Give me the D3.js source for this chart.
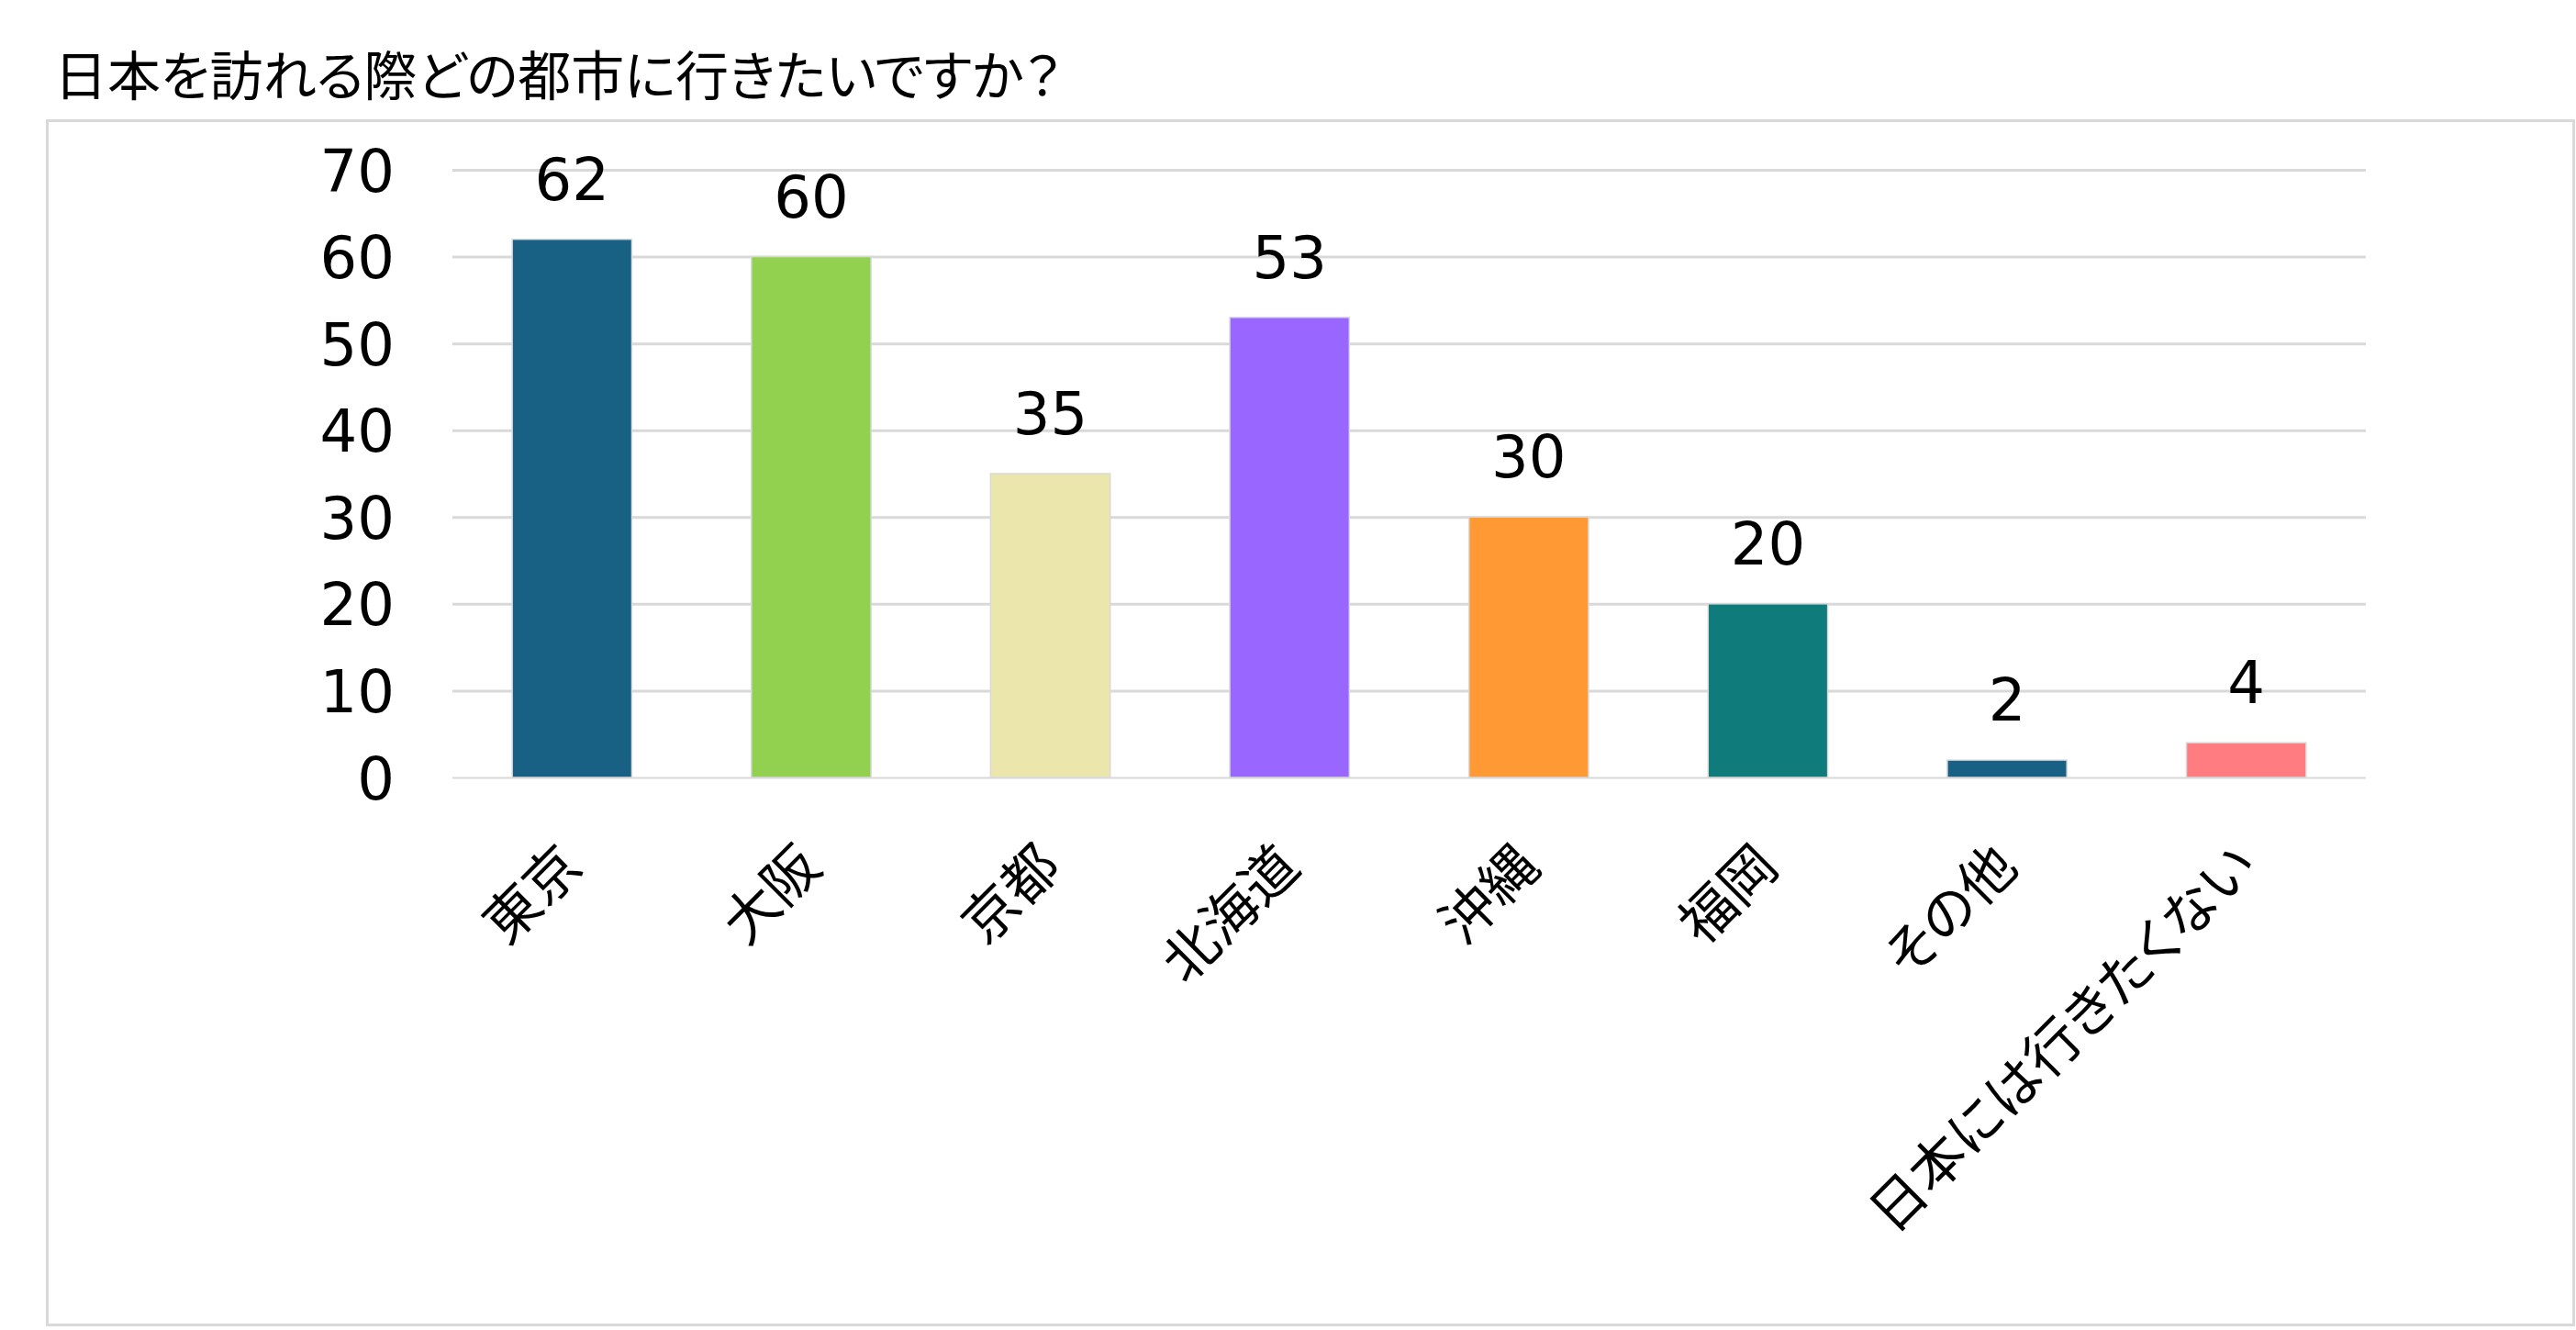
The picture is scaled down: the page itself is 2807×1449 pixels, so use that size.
<!DOCTYPE html>
<html><head><meta charset="utf-8">
<script src="https://cdn.jsdelivr.net/npm/d3@7"></script>
<style>
html,body{margin:0;padding:0;background:#fff;}
svg{display:block;}
.jp{font-family:"Noto Sans CJK JP","Noto Sans CJK SC",sans-serif;font-feature-settings:"palt";}
.num{font-family:"DejaVu Sans","Noto Sans CJK JP",sans-serif;}
</style></head>
<body>
<script>
const title = "日本を訪れる際どの都市に行きたいですか？";
const categories = ["東京","大阪","京都","北海道","沖縄","福岡","その他","日本には行きたくない"];
const values = [62, 60, 35, 53, 30, 20, 2, 4];
const colors = ["#186084","#92d050","#ebe6ac","#9966ff","#ff9933","#0f7b7b","#186084","#ff7c80"];
const yTicks = [0,10,20,30,40,50,60,70];

const W = 2807, H = 1449;
const svg = d3.select("body").append("svg").attr("width", W).attr("height", H);

// chart frame
svg.append("rect").attr("x", 51.5).attr("y", 131.5).attr("width", 2753).attr("height", 1312)
  .attr("fill", "#fff").attr("stroke", "#d9d9d9").attr("stroke-width", 3);

svg.append("text").attr("class", "jp").attr("x", 59).attr("y", 104)
  .attr("font-size", 58).attr("fill", "#000").text(title);

const x = d3.scaleBand().domain(categories).range([493, 2578]).paddingInner(0.5).paddingOuter(0.25);
const y = d3.scaleLinear().domain([0, 70]).range([847, 185]);

// gridlines
const yAxis = d3.axisLeft(y).tickValues(yTicks).tickSize(-(2578 - 493)).tickFormat(d => d);
const gy = svg.append("g").attr("transform", "translate(493,0)").call(yAxis);
gy.select(".domain").remove();
gy.selectAll(".tick line").attr("stroke", "#d9d9d9").attr("stroke-width", d => d === 0 ? 2 : 3);
gy.selectAll(".tick text").attr("class", "num").attr("x", -63).attr("dy", "0.36em")
  .attr("font-size", 64).attr("fill", "#000").attr("text-anchor", "end");

// bars
svg.append("g").selectAll("rect").data(values).join("rect")
  .attr("x", (d, i) => x(categories[i]))
  .attr("y", d => y(d))
  .attr("width", x.bandwidth())
  .attr("height", d => y(0) - y(d))
  .attr("fill", (d, i) => colors[i])
  .attr("stroke", "#d9d9d9").attr("stroke-width", 1.5);

// data labels
svg.append("g").selectAll("text").data(values).join("text")
  .attr("class", "num")
  .attr("x", (d, i) => x(categories[i]) + x.bandwidth() / 2)
  .attr("y", d => y(d) - 43)
  .attr("text-anchor", "middle").attr("font-size", 64).attr("fill", "#000")
  .text(d => d);

// category labels
const xAxis = d3.axisBottom(x).tickSize(0).tickPadding(0);
const gx = svg.append("g").attr("transform", `translate(0,${y(0)})`).call(xAxis);
gx.select(".domain").remove();
gx.selectAll(".tick text")
  .attr("class", "jp")
  .attr("font-size", 60).attr("fill", "#000")
  .attr("text-anchor", "end")
  .attr("y", 0).attr("dy", 0)
  .attr("transform", "translate(14,100) rotate(-45)");
</script>
</body></html>
